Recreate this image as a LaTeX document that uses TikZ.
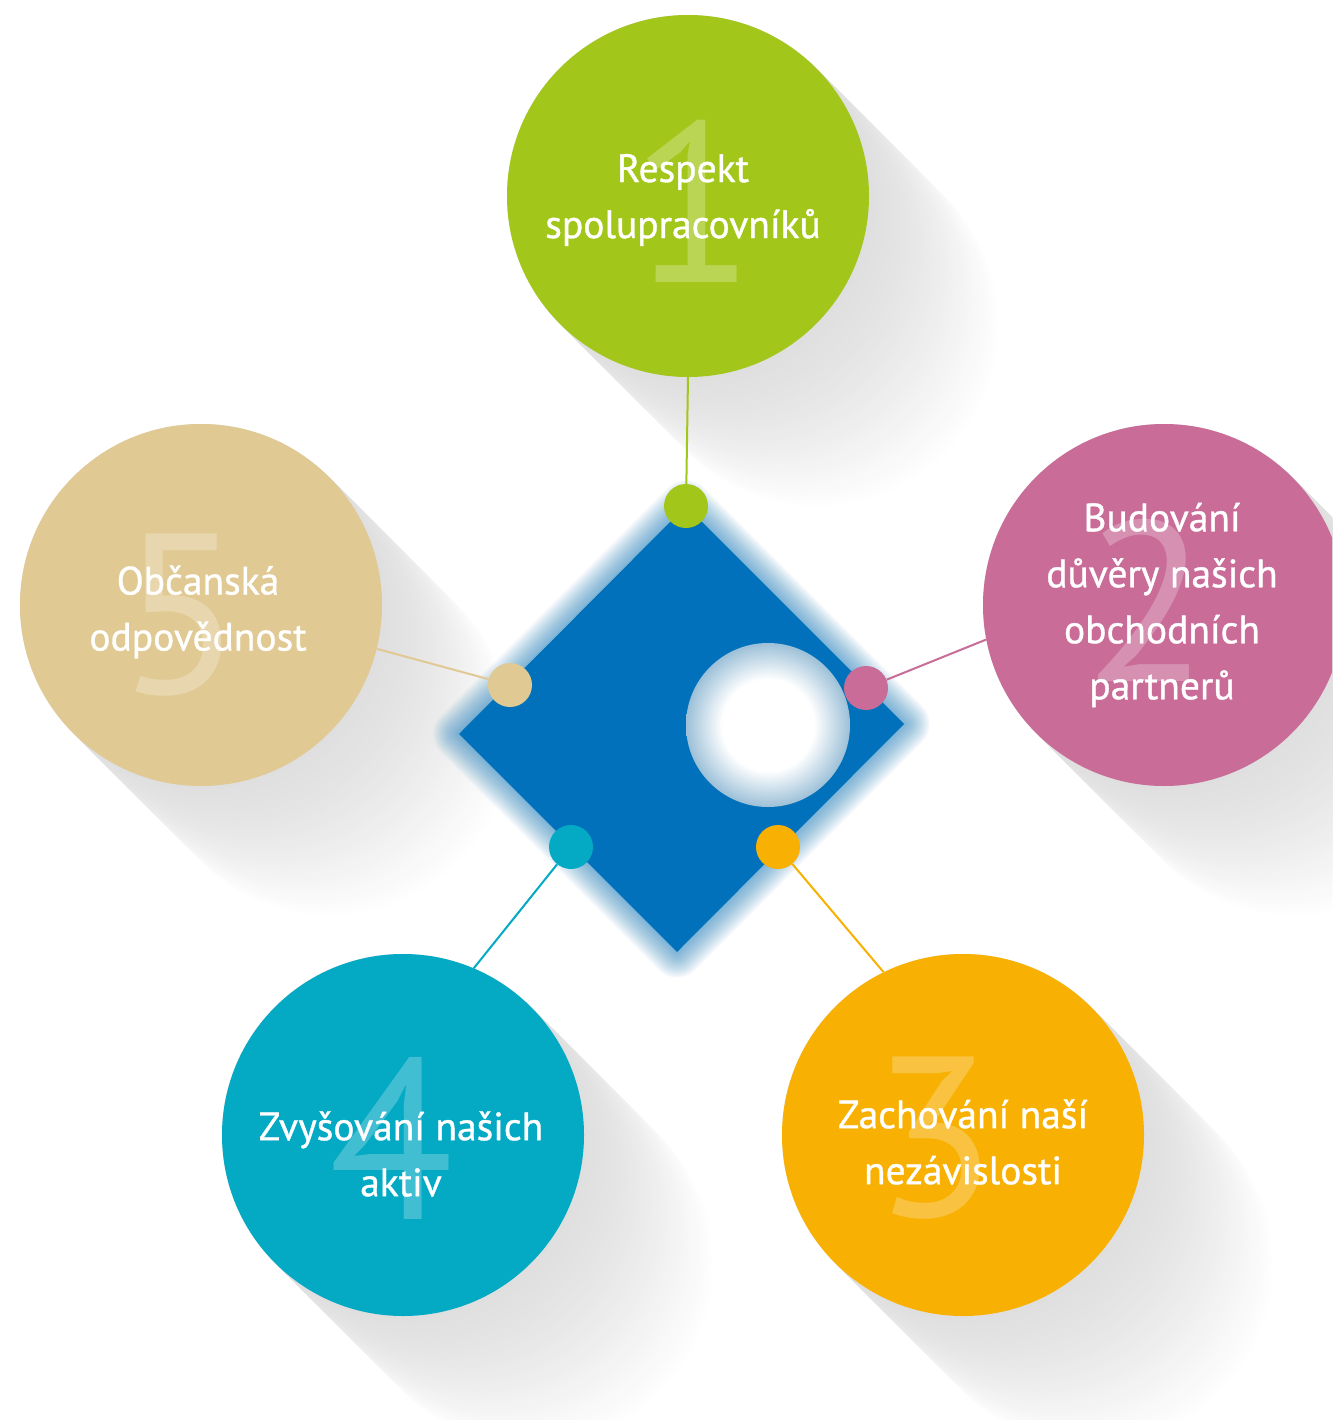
\documentclass[tikz,border=0pt]{standalone}
\usepackage{fontspec}
\newfontfamily\lab[FakeBold=0.9]{PT Sans}
\newfontfamily\dig{PT Sans}
\definecolor{cgreen}{HTML}{A3C61A}
\definecolor{cpink}{HTML}{C96C98}
\definecolor{corange}{HTML}{F8B002}
\definecolor{cteal}{HTML}{04A9C3}
\definecolor{ctan}{HTML}{E0C993}
\definecolor{dblue}{HTML}{0071BA}
\definecolor{holeedge}{HTML}{9CC0D8}
\pgfdeclareradialshading{holeshade}{\pgfpoint{0bp}{0bp}}{color(0bp)=(white); color(14bp)=(white); color(25bp)=(holeedge); color(50bp)=(holeedge)}
\tikzset{
  bigc/.style={circle, minimum size=362pt, inner sep=0pt},
  dotc/.style={circle, minimum size=44pt, inner sep=0pt},
  conn/.style={line width=2pt},
  lbl/.style={text=white, align=center, inner sep=0pt, font=\lab\fontsize{39.5}{56}\selectfont},
  digit/.style={text=white, text opacity=0.25, inner sep=0pt, font=\dig\fontsize{228}{228}\selectfont}
}
\begin{document}
\begin{tikzpicture}[x=1pt,y=-1pt]
\useasboundingbox (0,0) rectangle (1332,1420);
\clip (0,0) rectangle (1332,1420);
\fill[white] (0,0) rectangle (1332,1420);
\coordinate (p1) at (688,196);
\coordinate (p2) at (1164,605);
\coordinate (p3) at (963,1135);
\coordinate (p4) at (403,1135);
\coordinate (p5) at (201,605);
% long shadows
\foreach \c in {p1,p2,p3,p4,p5}{
  \foreach \t in {132,129,...,0}{
    \pgfmathsetmacro\p{12.5*(1-(\t/132)^1.3)}
    \fill[black!\p] ([shift={(\t,\t)}]\c) circle[radius=181pt];
  }
}
% diamond
\coordinate (dt) at (686,506);
\coordinate (dr) at (904,724);
\coordinate (db) at (677,952);
\coordinate (dl) at (459,734);
\foreach \w in {52,50,...,2}{
  \draw[dblue, opacity=0.022, line width=\w pt, line join=round] (dt)--(dr)--(db)--(dl)--cycle;
}
\fill[dblue] (dt)--(dr)--(db)--(dl)--cycle;
\shade[shading=holeshade] (768,725) circle[radius=82pt];
% big circles
\node[bigc, fill=cgreen] (c1) at (p1) {};
\node[bigc, fill=cpink] (c2) at (p2) {};
\node[bigc, fill=corange] (c3) at (p3) {};
\node[bigc, fill=cteal] (c4) at (p4) {};
\node[bigc, fill=ctan] (c5) at (p5) {};
% dots
\node[dotc, fill=cgreen] (d1) at (686,506) {};
\node[dotc, fill=cpink] (d2) at (866,688) {};
\node[dotc, fill=corange] (d3) at (778,847) {};
\node[dotc, fill=cteal] (d4) at (571,847) {};
\node[dotc, fill=ctan] (d5) at (510,685) {};
% connectors
\draw[conn, cgreen] (d1) -- (c1.270);
\draw[conn, cpink] (d2) -- (c2.191.4);
\draw[conn, corange] (d3) -- (c3.116.3);
\draw[conn, cteal] (d4) -- (c4.67);
\draw[conn, ctan] (d5) -- (c5.-14.6);
% digits
\node[digit] (n1) at (694,201) {1};
\node[digit] (n2) at (1147,600) {2};
\node[digit] (n3) at (935,1138) {3};
\node[digit] (n4) at (392,1138) {4};
\node[digit] (n5) at (181,615) {5};
% labels
\node[lbl] (t1) at (683,200) {Respekt\\spolupracovníků};
\node[lbl] (t2) at (1162,605) {Budování\\důvěry našich\\obchodních\\partnerů};
\node[lbl] (t3) at (963,1142) {Zachování naší\\nezávislosti};
\node[lbl] (t4) at (401,1154) {Zvyšování našich\\aktiv};
\node[lbl] (t5) at (198,612) {Občanská\\odpovědnost};
\end{tikzpicture}
\end{document}
